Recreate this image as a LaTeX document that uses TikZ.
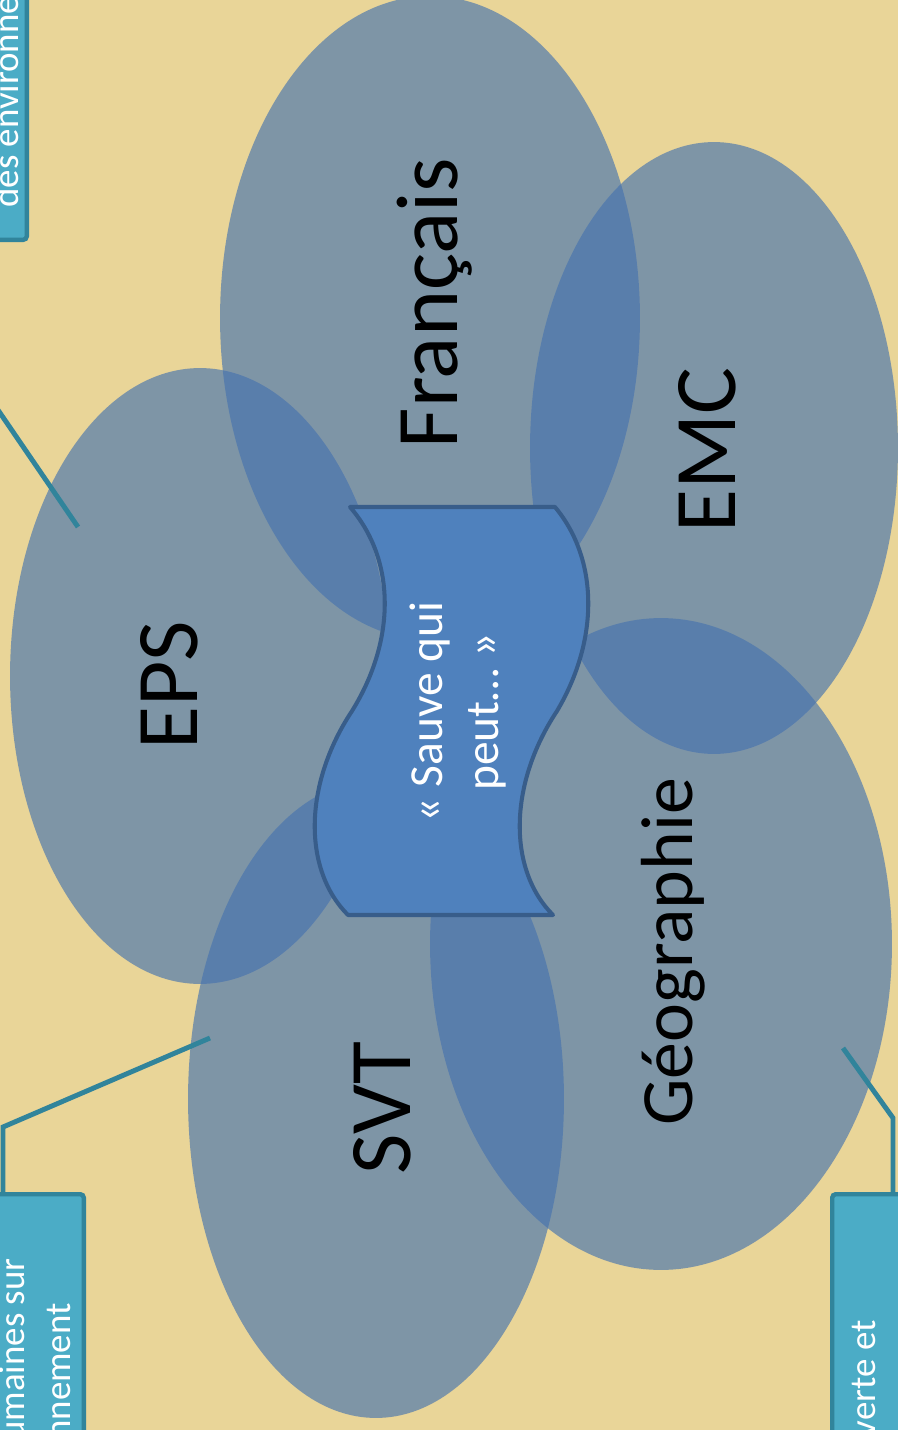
\documentclass[tikz,border=0pt]{standalone}
\usepackage{fontspec}
\setmainfont{Carlito}
\usetikzlibrary{shapes.geometric}

\definecolor{papyrus}{RGB}{233,213,152}
\definecolor{petalblue}{RGB}{70,115,175}
\definecolor{wavefill}{RGB}{79,129,189}
\definecolor{waveline}{RGB}{56,93,138}
\definecolor{boxfill}{RGB}{75,172,198}
\definecolor{boxline}{RGB}{49,132,155}

\begin{document}
\begin{tikzpicture}[x=0.02cm, y=-0.02cm,
petal/.style = {shape=ellipse, fill=petalblue, fill opacity=0.65, draw=none, inner sep=0pt},
subject/.style = {rotate=90, anchor=base, inner sep=0pt, text=black,
font=\fontsize{50}{60}\selectfont},
infobox/.style = {shape=rectangle, draw=boxline, fill=boxfill, line width=2.5pt,
rounded corners=2pt, inner sep=0pt, minimum width=4cm, minimum height=8cm},
infotext/.style = {rotate=90, inner sep=0pt, text=white, font=\fontsize{21}{25}\selectfont},
link/.style = {draw=boxline, line width=2.8pt}]
\useasboundingbox (0,0) rectangle (898,1430);
\clip (0,0) rectangle (898,1430);
\fill [papyrus] (0,0) rectangle (898,1430);

% subjects
\node (eps) [petal, minimum width=7.6cm, minimum height=12.32cm] at (200,676) {};
\node (francais) [petal, minimum width=8.4cm, minimum height=12.88cm] at (430,318) {};
\node (emc) [petal, minimum width=7.36cm, minimum height=12.24cm] at (714,448) {};
\node (geo) [petal, minimum width=9.24cm, minimum height=13.04cm] at (661,944) {};
\node (svt) [petal, minimum width=7.52cm, minimum height=12.76cm] at (376,1099) {};

\node (epslabel) [subject] at (197,685) {EPS};
\node (frlabel) [subject] at (457,303) {Français};
\node (emclabel) [subject] at (735,450) {EMC};
\node (geolabel) [subject, font=\fontsize{42}{50}\selectfont] at (692,952) {Géographie};
\node (svtlabel) [subject] at (410,1108) {SVT};

% boxes on the edges
\node (tlbox) [infobox, anchor=south east] at (29,242) {};
\node (blbox) [infobox, anchor=north east] at (86,1192) {};
\node (brbox) [infobox, anchor=north west] at (830,1192) {};

\node (tltext) [infotext, anchor=base west] at (18,208) {des environne};
\node (bltext1) [infotext, anchor=base east] at (25,1258) {umaines sur};
\node (bltext2) [infotext, anchor=base east] at (70,1303) {nnement};
\node (brtext) [infotext, anchor=base east] at (875,1320) {verte et};

% connectors
\coordinate (epspt) at (78,527);
\coordinate (tlknee) at (-30,369);
\coordinate (svtpt) at (210,1038);
\coordinate (blknee) at (3,1127);
\coordinate (geopt) at (843,1048);
\coordinate (brknee) at (893,1118);
\draw [link] (epspt) -- (tlknee) -- (tlknee |- tlbox.south);
\draw [link] (svtpt) -- (blknee) -- (blknee |- blbox.north);
\draw [link] (geopt) -- (brknee) -- (brknee |- brbox.north);

% centre
\draw [fill=wavefill, draw=waveline, line width=2.3pt, line join=round]
(350,507) -- (555,507)
.. controls (599,560) and (599,640) .. (557,711)
.. controls (508,785) and (508,870) .. (553,915)
-- (348,915)
.. controls (303,870) and (303,785) .. (352,711)
.. controls (396,640) and (396,560) .. (350,507) -- cycle;
\node (sauve) [rotate=90, text=white, align=center,
font=\fontsize{27}{32}\selectfont] at (458,712) {« Sauve qui\\peut… »};
\end{tikzpicture}
\end{document}
